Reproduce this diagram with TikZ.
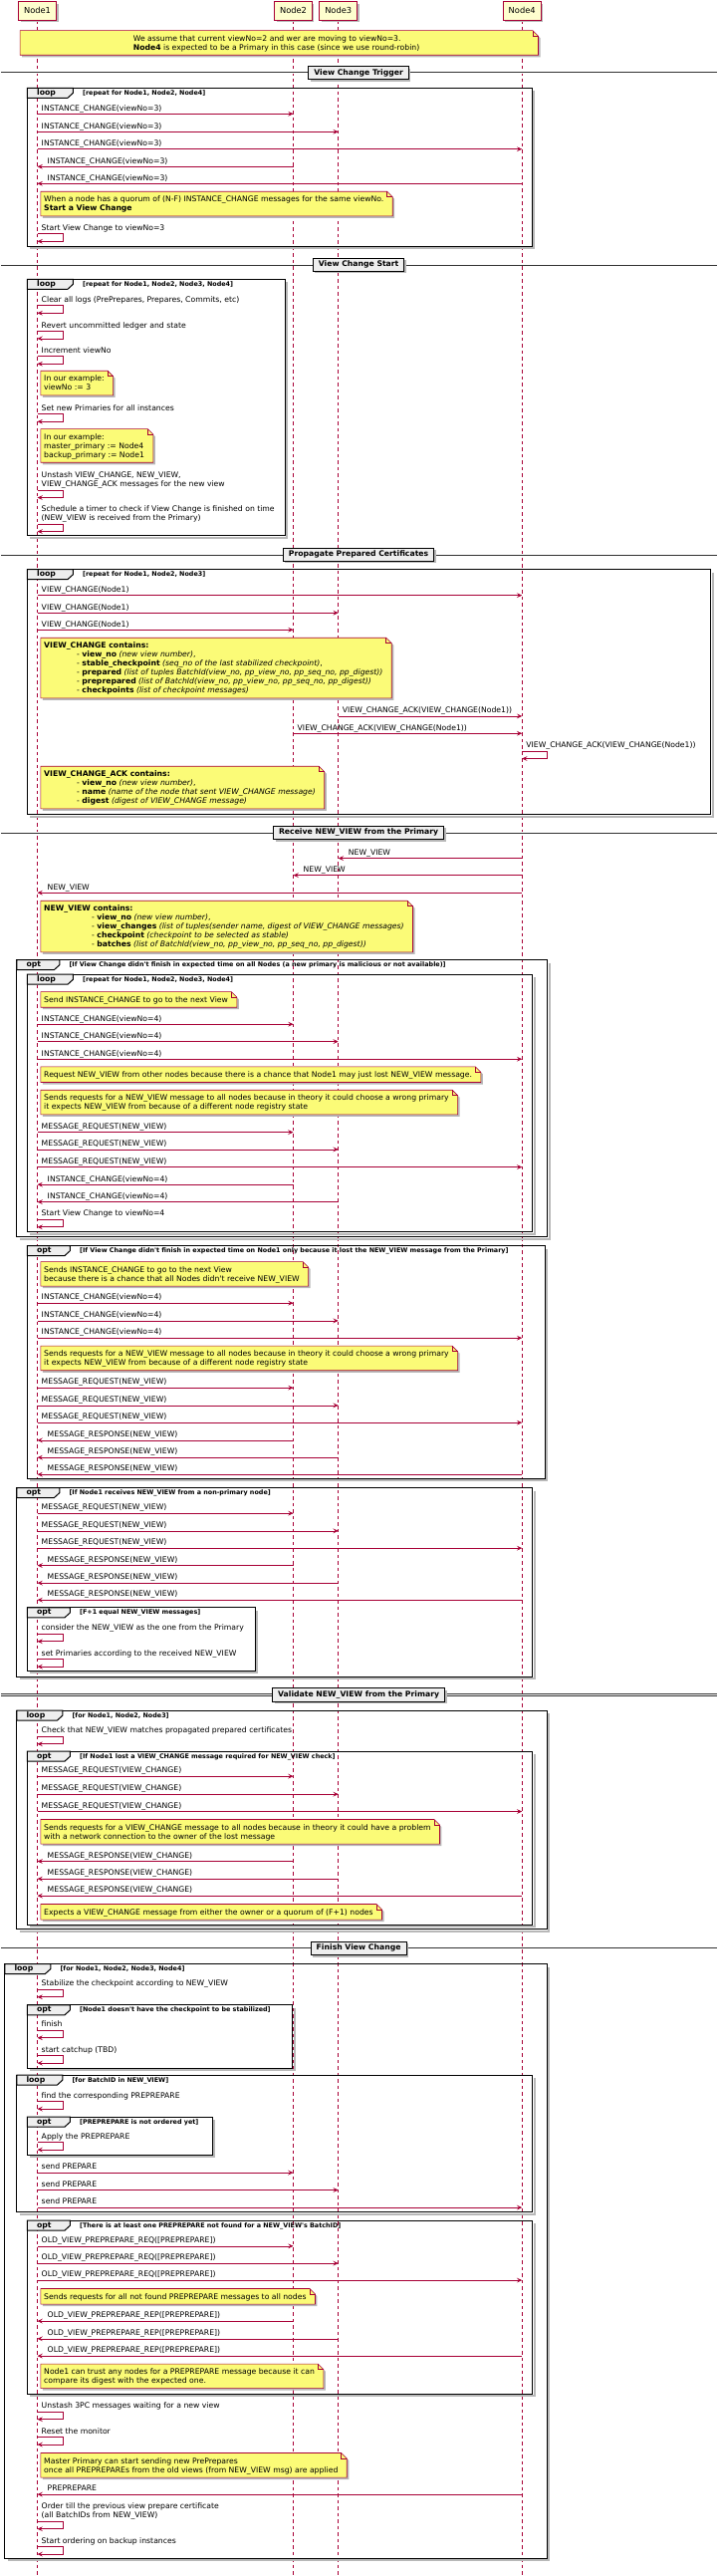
\documentclass[tikz,border=0pt]{standalone}
\usepackage{fontspec}
\setmainfont{DejaVu Sans}
\usepackage{tikz}
\usetikzlibrary{arrows.meta, shadows}

\definecolor{seqred}{HTML}{A80036}
\definecolor{partfill}{HTML}{FEFECE}
\definecolor{notefill}{HTML}{FBFB77}
\definecolor{tabfill}{HTML}{EEEEEE}
\definecolor{shadowc}{HTML}{B8B8B8}

\pgfdeclarelayer{lanes}
\pgfdeclarelayer{background}
\pgfsetlayers{lanes,background,main}

\tikzset{
  participant/.style={draw=seqred, line width=0.9pt, fill=partfill, inner xsep=5.5pt,
    minimum height=18.3pt, font=\fontsize{8.3}{10}\selectfont,
    drop shadow={shadow xshift=2pt, shadow yshift=-2pt, fill=shadowc, opacity=1}},
  lifeline/.style={draw=seqred, line width=0.5pt, dash pattern=on 3.5pt off 3pt},
  msg/.style={draw=seqred, line width=0.6pt, -{Stealth[length=5.3pt, width=4.8pt, inset=2.2pt]}},
  msglbl/.style={anchor=south west, inner sep=0pt, font=\fontsize{7.7}{9}\selectfont},
  notetext/.style={anchor=north west, yshift=-1.1pt, inner xsep=3.2pt, inner ysep=3.1pt,
    font=\fontsize{7.7}{9}\selectfont},
  notebox/.style={fill=notefill, draw=seqred, line width=0.6pt, line join=miter},
  frame/.style={draw=black, line width=1pt},
  frameshadow/.style={draw=shadowc, line width=2pt},
  framelbl/.style={anchor=west, inner sep=0pt, font=\bfseries\fontsize{7.7}{9}\selectfont},
  cond/.style={anchor=west, inner sep=0pt, font=\bfseries\fontsize{6.4}{8}\selectfont},
  sepline/.style={draw=black!80, line width=0.6pt, double distance=1.1pt},
  sepbox/.style={draw=black, line width=0.9pt, fill=tabfill, inner xsep=5.5pt, inner ysep=2.15pt,
    font=\bfseries\fontsize{7.7}{9}\selectfont,
    drop shadow={shadow xshift=2pt, shadow yshift=-2pt, fill=shadowc, opacity=1}}
}

\newcount\msgcount
\newcommand{\txtlines}[1]{\begin{tabular}{@{}l@{}}#1\end{tabular}}
\newcommand{\q}{\textquotesingle}
% message from #1 to #2 at height #3
\newcommand{\sendmsg}[4]{%
  \global\advance\msgcount by 1
  \draw[msg] (#1 |- 0,#3) -- (#2 |- 0,#3);
  \node[msglbl, xshift=4pt] (msg\the\msgcount) at (#1 |- 0,#3-0.3) {\txtlines{#4}};
}
\newcommand{\replymsg}[4]{%
  \global\advance\msgcount by 1
  \draw[msg] (#1 |- 0,#3) -- (#2 |- 0,#3);
  \node[msglbl, xshift=10pt] (msg\the\msgcount) at (#2 |- 0,#3-0.3) {\txtlines{#4}};
}
\newcommand{\selfmsg}[3]{%
  \global\advance\msgcount by 1
  \draw[msg] (#1 |- 0,#2) -- ++(25.4pt,0) -- ++(0,-7.6pt) -- ++(-25.4pt,0);
  \node[msglbl, xshift=4pt] (msg\the\msgcount) at (#1 |- 0,#2-0.3) {\txtlines{#3}};
}
% note outline with the folded corner, shifted by (#2,#3)
\newcommand{\notepath}[3]{([shift={(#2,#3+1.1pt)}]#1.north west) -- ([shift={(#2,#3+1.1pt)}]#1.north east)
  -- ([shift={(#2+5.5pt,#3-4.4pt)}]#1.north east) -- ([shift={(#2+5.5pt,#3+1.1pt)}]#1.south east)
  -- ([shift={(#2,#3+1.1pt)}]#1.south west) -- cycle}
\newcommand{\seqnote}[4][]{%
  \node[notetext, #1] (#2) at (#3) {\txtlines{#4}};
  \begin{pgfonlayer}{background}
    \fill[shadowc] \notepath{#2}{2pt}{-2pt};
    \path[notebox] \notepath{#2}{0pt}{0pt};
    \draw[notebox, fill=none] ([yshift=1.1pt]#2.north east) -- ([yshift=-4.4pt]#2.north east) -- ([shift={(5.5pt,-4.4pt)}]#2.north east);
  \end{pgfonlayer}
}
% group frame: name, kind, tab width, left, top, right, bottom, condition
\newcommand{\seqgroup}[8]{%
  \draw[frameshadow] (#6+2,#5+3) -- (#6+2,#7+2) -- (#4+3,#7+2);
  \draw[frame] (#4,#5) rectangle (#6,#7);
  \draw[frame, fill=tabfill] (#4,#5) -- (#4+#3,#5) -- (#4+#3,#5+5) -- (#4+#3-5.5,#5+10) -- (#4,#5+10) -- cycle;
  \node[framelbl] (#1) at (#4+9.5,#5+5) {#2};
  \node[cond] (#1-cond) at (#4+#3+9.5,#5+5.4) {[#8]};
}
\newcommand{\divider}[3]{%
  \draw[sepline] (0,#2) -- (719,#2);
  \node[sepbox] (#1) at (359,#2) {\txtlines{#3}};
}

\begin{document}
\begin{tikzpicture}[x=1pt, y=-1pt]
\begin{pgfonlayer}{lanes}
  \path[use as bounding box, fill=white] (0,0) rectangle (721,2586);
\end{pgfonlayer}

% participants and lifelines
\node[participant] (N1) at (36.4,10.85) {Node1};
\node[participant] (N2) at (293.4,10.85) {Node2};
\node[participant] (N3) at (338.6,10.85) {Node3};
\node[participant] (N4) at (523.1,10.85) {Node4};
\begin{pgfonlayer}{lanes}
  \foreach \p in {N1,N2,N3,N4}
    \draw[lifeline] (\p.south) -- (\p |- 0,2586);
\end{pgfonlayer}

\seqnote[minimum width=514.5pt]{assume}{19,30.7}{We assume that current viewNo=2 and wer are moving to viewNo=3.\\\textbf{Node4} is expected to be a Primary in this case (since we use round-robin)}

% view change trigger
\divider{trigger}{73.3}{View Change Trigger}
\seqgroup{sendic}{loop}{46}{26.3}{88.3}{533.2}{247.3}{repeat for Node1, Node2, Node4}
\sendmsg{N1}{N2}{114.3}{INSTANCE\_CHANGE(viewNo=3)}
\sendmsg{N1}{N3}{132.3}{INSTANCE\_CHANGE(viewNo=3)}
\sendmsg{N1}{N4}{149.7}{INSTANCE\_CHANGE(viewNo=3)}
\replymsg{N2}{N1}{167.3}{INSTANCE\_CHANGE(viewNo=3)}
\replymsg{N4}{N1}{184.3}{INSTANCE\_CHANGE(viewNo=3)}
\seqnote{quorum}{39.7,192.3}{When a node has a quorum of (N-F) INSTANCE\_CHANGE messages for the same viewNo.\\\textbf{Start a View Change}}
\selfmsg{N1}{234.7}{Start View Change to viewNo=3}

% view change start
\divider{start}{265.7}{View Change Start}
\seqgroup{reset}{loop}{46}{26.3}{280.3}{285}{537.7}{repeat for Node1, Node2, Node3, Node4}
\selfmsg{N1}{306.7}{Clear all logs (PrePrepares, Prepares, Commits, etc)}
\selfmsg{N1}{332.3}{Revert uncommitted ledger and state}
\selfmsg{N1}{357.7}{Increment viewNo}
\seqnote{viewno}{39.7,372.3}{In our example:\\viewNo := 3}
\selfmsg{N1}{415.7}{Set new Primaries for all instances}
\seqnote{primaries}{39.7,430.7}{In our example:\\master\_primary := Node4\\backup\_primary := Node1}
\selfmsg{N1}{492}{Unstash VIEW\_CHANGE, NEW\_VIEW,\\VIEW\_CHANGE\_ACK messages for the new view}
\selfmsg{N1}{526}{Schedule a timer to check if View Change is finished on time\\(NEW\_VIEW is received from the Primary)}

% propagate prepared certificates
\divider{propagate}{556.7}{Propagate Prepared Certificates}
\seqgroup{sendvc}{loop}{46}{26.3}{571.7}{712.6}{817.7}{repeat for Node1, Node2, Node3}
\sendmsg{N1}{N4}{597.7}{VIEW\_CHANGE(Node1)}
\sendmsg{N1}{N3}{615.3}{VIEW\_CHANGE(Node1)}
\sendmsg{N1}{N2}{632.3}{VIEW\_CHANGE(Node1)}
\seqnote{vcfields}{39.7,640.3}{\textbf{VIEW\_CHANGE contains:}\\
  \hspace*{33pt}- \textbf{view\_no} \textit{(new view number)},\\
  \hspace*{33pt}- \textbf{stable\_checkpoint} \textit{(seq\_no of the last stabilized checkpoint)},\\
  \hspace*{33pt}- \textbf{prepared} \textit{(list of tuples BatchId(view\_no, pp\_view\_no, pp\_seq\_no, pp\_digest))}\\
  \hspace*{33pt}- \textbf{preprepared} \textit{(list of BatchId(view\_no, pp\_view\_no, pp\_seq\_no, pp\_digest))}\\
  \hspace*{33pt}- \textbf{checkpoints} \textit{(list of checkpoint messages)}}
\sendmsg{N3}{N4}{719}{VIEW\_CHANGE\_ACK(VIEW\_CHANGE(Node1))}
\sendmsg{N2}{N4}{736.3}{VIEW\_CHANGE\_ACK(VIEW\_CHANGE(Node1))}
\selfmsg{N4}{754}{VIEW\_CHANGE\_ACK(VIEW\_CHANGE(Node1))}
\seqnote{ackfields}{39.7,769.3}{\textbf{VIEW\_CHANGE\_ACK contains:}\\
  \hspace*{33pt}- \textbf{view\_no} \textit{(new view number)},\\
  \hspace*{33pt}- \textbf{name} \textit{(name of the node that sent VIEW\_CHANGE message)}\\
  \hspace*{33pt}- \textbf{digest} \textit{(digest of VIEW\_CHANGE message)}}

% receive NEW_VIEW
\divider{receive}{836}{Receive NEW\_VIEW from the Primary}
\replymsg{N4}{N3}{861.7}{NEW\_VIEW}
\replymsg{N4}{N2}{878.7}{NEW\_VIEW}
\replymsg{N4}{N1}{896.3}{NEW\_VIEW}
\seqnote{nvfields}{39.7,904.3}{\textbf{NEW\_VIEW contains:}\\
  \hspace*{48pt}- \textbf{view\_no} \textit{(new view number)},\\
  \hspace*{48pt}- \textbf{view\_changes} \textit{(list of tuples(sender name, digest of VIEW\_CHANGE messages)}\\
  \hspace*{48pt}- \textbf{checkpoint} \textit{(checkpoint to be selected as stable)}\\
  \hspace*{48pt}- \textbf{batches} \textit{(list of BatchId(view\_no, pp\_view\_no, pp\_seq\_no, pp\_digest))}}

\seqgroup{timeout}{opt}{43}{15.7}{963.7}{548.4}{1241.7}{If View Change didn\q t finish in expected time on all Nodes (a new primary is malicious or not available)}
\seqgroup{retry}{loop}{46}{26.3}{978.3}{533.7}{1236.7}{repeat for Node1, Node2, Node3, Node4}
\seqnote{nextview}{39.7,995.7}{Send INSTANCE\_CHANGE to go to the next View}
\sendmsg{N1}{N2}{1028.3}{INSTANCE\_CHANGE(viewNo=4)}
\sendmsg{N1}{N3}{1045.7}{INSTANCE\_CHANGE(viewNo=4)}
\sendmsg{N1}{N4}{1063.3}{INSTANCE\_CHANGE(viewNo=4)}
\seqnote{lostnv}{39.7,1071}{Request NEW\_VIEW from other nodes because there is a chance that Node1 may just lost NEW\_VIEW message.}
\seqnote{wrongprimary}{39.7,1094.3}{Sends requests for a NEW\_VIEW message to all nodes because in theory it could choose a wrong primary\\it expects NEW\_VIEW from because of a different node registry state}
\sendmsg{N1}{N2}{1136.7}{MESSAGE\_REQUEST(NEW\_VIEW)}
\sendmsg{N1}{N3}{1154}{MESSAGE\_REQUEST(NEW\_VIEW)}
\sendmsg{N1}{N4}{1171.7}{MESSAGE\_REQUEST(NEW\_VIEW)}
\replymsg{N2}{N1}{1189.3}{INSTANCE\_CHANGE(viewNo=4)}
\replymsg{N3}{N1}{1206.7}{INSTANCE\_CHANGE(viewNo=4)}
\selfmsg{N1}{1224.3}{Start View Change to viewNo=4}

\seqgroup{onlynode}{opt}{43}{26.3}{1250.7}{546}{1484.3}{If View Change didn\q t finish in expected time on Node1 only because it lost the NEW\_VIEW message from the Primary}
\seqnote{nextview2}{39.7,1266.7}{Sends INSTANCE\_CHANGE to go to the next View\\because there is a chance that all Nodes didn\q t receive NEW\_VIEW}
\sendmsg{N1}{N2}{1308.3}{INSTANCE\_CHANGE(viewNo=4)}
\sendmsg{N1}{N3}{1326}{INSTANCE\_CHANGE(viewNo=4)}
\sendmsg{N1}{N4}{1343.3}{INSTANCE\_CHANGE(viewNo=4)}
\seqnote{wrongprimary2}{39.7,1351.3}{Sends requests for a NEW\_VIEW message to all nodes because in theory it could choose a wrong primary\\it expects NEW\_VIEW from because of a different node registry state}
\sendmsg{N1}{N2}{1393.3}{MESSAGE\_REQUEST(NEW\_VIEW)}
\sendmsg{N1}{N3}{1411}{MESSAGE\_REQUEST(NEW\_VIEW)}
\sendmsg{N1}{N4}{1428.3}{MESSAGE\_REQUEST(NEW\_VIEW)}
\replymsg{N2}{N1}{1446}{MESSAGE\_RESPONSE(NEW\_VIEW)}
\replymsg{N3}{N1}{1463.3}{MESSAGE\_RESPONSE(NEW\_VIEW)}
\replymsg{N4}{N1}{1480.3}{MESSAGE\_RESPONSE(NEW\_VIEW)}

\seqgroup{nonprimary}{opt}{43}{15.7}{1493.7}{533.7}{1683.3}{If Node1 receives NEW\_VIEW from a non-primary node}
\sendmsg{N1}{N2}{1519.3}{MESSAGE\_REQUEST(NEW\_VIEW)}
\sendmsg{N1}{N3}{1537}{MESSAGE\_REQUEST(NEW\_VIEW)}
\sendmsg{N1}{N4}{1554.3}{MESSAGE\_REQUEST(NEW\_VIEW)}
\replymsg{N2}{N1}{1571.7}{MESSAGE\_RESPONSE(NEW\_VIEW)}
\replymsg{N3}{N1}{1589.3}{MESSAGE\_RESPONSE(NEW\_VIEW)}
\replymsg{N4}{N1}{1606.3}{MESSAGE\_RESPONSE(NEW\_VIEW)}
\seqgroup{fplusone}{opt}{43}{26.3}{1614}{255}{1677.3}{F+1 equal NEW\_VIEW messages}
\selfmsg{N1}{1640.3}{consider the NEW\_VIEW as the one from the Primary}
\selfmsg{N1}{1665.7}{set Primaries according to the received NEW\_VIEW}

% validate NEW_VIEW
\divider{validate}{1701.7}{Validate NEW\_VIEW from the Primary}
\seqgroup{checknv}{loop}{46}{15.7}{1717.3}{548}{1937}{for Node1, Node2, Node3}
\selfmsg{N1}{1743.3}{Check that NEW\_VIEW matches propagated prepared certificates}
\seqgroup{lostvc}{opt}{43}{26.3}{1758.3}{533.7}{1932.3}{If Node1 lost a VIEW\_CHANGE message required for NEW\_VIEW check}
\sendmsg{N1}{N2}{1783.3}{MESSAGE\_REQUEST(VIEW\_CHANGE)}
\sendmsg{N1}{N3}{1801.3}{MESSAGE\_REQUEST(VIEW\_CHANGE)}
\sendmsg{N1}{N4}{1818.7}{MESSAGE\_REQUEST(VIEW\_CHANGE)}
\seqnote{network}{39.7,1826.7}{Sends requests for a VIEW\_CHANGE message to all nodes because in theory it could have a problem\\with a network connection to the owner of the lost message}
\replymsg{N2}{N1}{1868.7}{MESSAGE\_RESPONSE(VIEW\_CHANGE)}
\replymsg{N3}{N1}{1886.3}{MESSAGE\_RESPONSE(VIEW\_CHANGE)}
\replymsg{N4}{N1}{1903.3}{MESSAGE\_RESPONSE(VIEW\_CHANGE)}
\seqnote{quorumvc}{39.7,1911.7}{Expects a VIEW\_CHANGE message from either the owner or a quorum of (F+1) nodes}

% finish view change
\divider{finish}{1956.3}{Finish View Change}
\seqgroup{finishing}{loop}{46}{3.7}{1971.7}{548}{2568.3}{for Node1, Node2, Node3, Node4}
\selfmsg{N1}{1997.3}{Stabilize the checkpoint according to NEW\_VIEW}
\seqgroup{nocheckpoint}{opt}{43}{26.3}{2013}{292.4}{2076.3}{Node1 doesn\q t have the checkpoint to be stabilized}
\selfmsg{N1}{2038.3}{finish}
\selfmsg{N1}{2063.7}{start catchup (TBD)}
\seqgroup{perbatch}{loop}{46}{15.7}{2083.3}{533.7}{2221}{for BatchID in NEW\_VIEW}
\selfmsg{N1}{2109.7}{find the corresponding PREPREPARE}
\seqgroup{notordered}{opt}{43}{26.3}{2125.3}{212.2}{2163.3}{PREPREPARE is not ordered yet}
\selfmsg{N1}{2150.7}{Apply the PREPREPARE}
\sendmsg{N1}{N2}{2181.3}{send PREPARE}
\sendmsg{N1}{N3}{2198.7}{send PREPARE}
\sendmsg{N1}{N4}{2216.3}{send PREPARE}
\seqgroup{missingpp}{opt}{43}{26.3}{2229.3}{533.7}{2403.7}{There is at least one PREPREPARE not found for a NEW\_VIEW\q s BatchID}
\sendmsg{N1}{N2}{2255}{OLD\_VIEW\_PREPREPARE\_REQ([PREPREPARE])}
\sendmsg{N1}{N3}{2272.3}{OLD\_VIEW\_PREPREPARE\_REQ([PREPREPARE])}
\sendmsg{N1}{N4}{2289.3}{OLD\_VIEW\_PREPREPARE\_REQ([PREPREPARE])}
\seqnote{notfound}{39.7,2297.7}{Sends requests for all not found PREPREPARE messages to all nodes}
\replymsg{N2}{N1}{2330.3}{OLD\_VIEW\_PREPREPARE\_REP([PREPREPARE])}
\replymsg{N3}{N1}{2348}{OLD\_VIEW\_PREPREPARE\_REP([PREPREPARE])}
\replymsg{N4}{N1}{2365.3}{OLD\_VIEW\_PREPREPARE\_REP([PREPREPARE])}
\seqnote{trust}{39.7,2373.3}{Node1 can trust any nodes for a PREPREPARE message because it can\\compare its digest with the expected one.}
\selfmsg{N1}{2421.3}{Unstash 3PC messages waiting for a new view}
\selfmsg{N1}{2446.7}{Reset the monitor}
\seqnote{master}{39.7,2462.7}{Master Primary can start sending new PrePrepares\\once all PREPREPAREs from the old views (from NEW\_VIEW msg) are applied}
\replymsg{N4}{N1}{2504.3}{PREPREPARE}
\selfmsg{N1}{2531.3}{Order till the previous view prepare certificate\\(all BatchIDs from NEW\_VIEW)}
\selfmsg{N1}{2556.7}{Start ordering on backup instances}
\end{tikzpicture}
\end{document}
